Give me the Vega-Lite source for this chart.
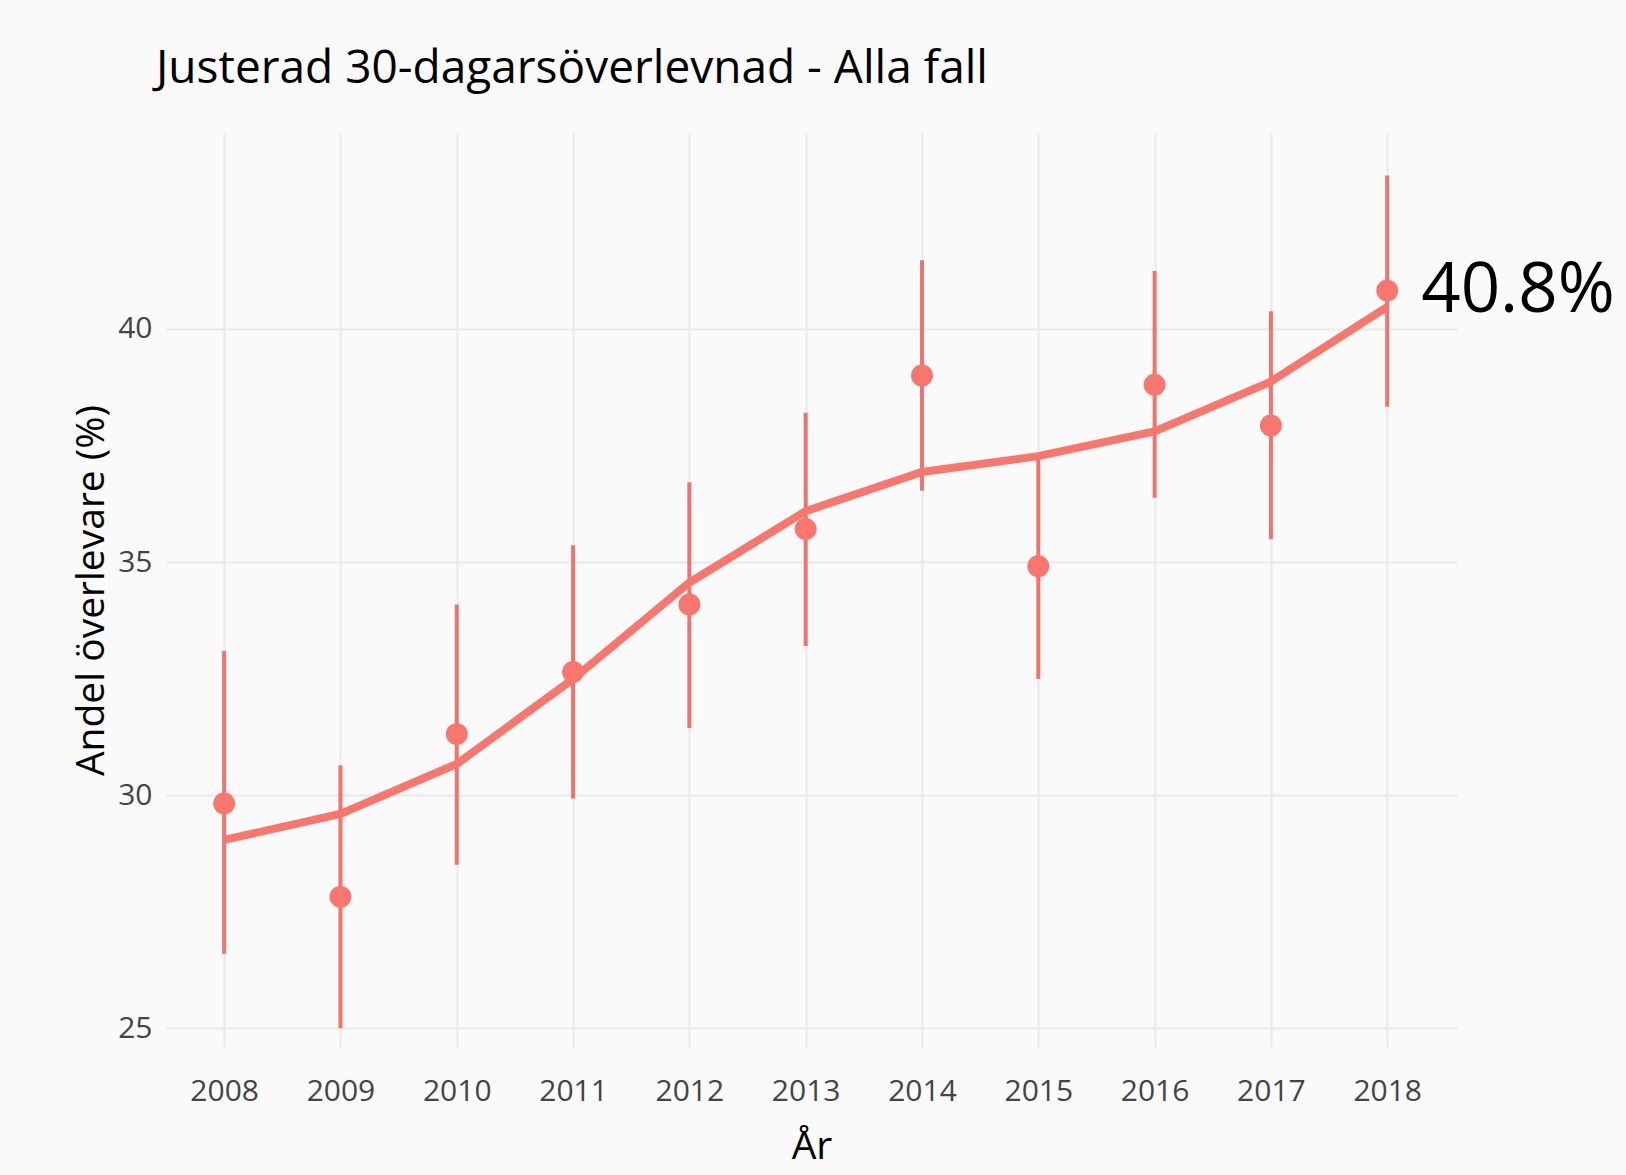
{
  "$schema": "https://vega.github.io/schema/vega-lite/v6.json",
  "width": 1291,
  "height": 914,
  "autosize": {"type": "none"},
  "padding": {"left": 166, "top": 133, "right": 169, "bottom": 128},
  "background": "#fafafa",
  "title": {
    "text": "Justerad 30-dagarsöverlevnad - Alla fall",
    "anchor": "start",
    "frame": "group",
    "dx": -10,
    "offset": 40,
    "font": "Open Sans",
    "fontSize": 46,
    "fontWeight": "normal",
    "color": "#000000"
  },
  "data": {
    "values": [
      {"year": 2008, "est": 29.82, "lo": 26.6, "hi": 33.09, "fit": 29.04, "label": ""},
      {"year": 2009, "est": 27.82, "lo": 25.0, "hi": 30.64, "fit": 29.6, "label": ""},
      {"year": 2010, "est": 31.31, "lo": 28.51, "hi": 34.09, "fit": 30.67, "label": ""},
      {"year": 2011, "est": 32.64, "lo": 29.93, "hi": 35.36, "fit": 32.49, "label": ""},
      {"year": 2012, "est": 34.09, "lo": 31.44, "hi": 36.71, "fit": 34.56, "label": ""},
      {"year": 2013, "est": 35.71, "lo": 33.2, "hi": 38.2, "fit": 36.09, "label": ""},
      {"year": 2014, "est": 39.0, "lo": 36.53, "hi": 41.47, "fit": 36.93, "label": ""},
      {"year": 2015, "est": 34.91, "lo": 32.49, "hi": 37.27, "fit": 37.27, "label": ""},
      {"year": 2016, "est": 38.8, "lo": 36.38, "hi": 41.24, "fit": 37.8, "label": ""},
      {"year": 2017, "est": 37.93, "lo": 35.49, "hi": 40.38, "fit": 38.87, "label": ""},
      {"year": 2018, "est": 40.82, "lo": 38.33, "hi": 43.29, "fit": 40.47, "label": "40.8%"}
    ]
  },
  "config": {
    "view": {"stroke": null},
    "axis": {
      "grid": true,
      "gridColor": "#e9e9e9",
      "gridWidth": 2,
      "domain": false,
      "ticks": false,
      "labelFont": "Open Sans",
      "labelFontSize": 30,
      "labelColor": "#444444",
      "titleFont": "Open Sans",
      "titleFontSize": 39,
      "titleFontWeight": "normal",
      "titleColor": "#000000"
    },
    "axisX": {"labelPadding": 29, "titlePadding": 21},
    "axisY": {"labelPadding": 14, "titlePadding": 6}
  },
  "layer": [
    {
      "mark": {"type": "rule", "color": "#ee7470", "strokeWidth": 4},
      "encoding": {
        "x": {"field": "year", "type": "quantitative", "scale": {"domain": [2007.5, 2018.6], "nice": false, "zero": false}, "axis": {"values": [2008, 2009, 2010, 2011, 2012, 2013, 2014, 2015, 2016, 2017, 2018], "format": "d"}, "title": "År"},
        "y": {"field": "lo", "type": "quantitative", "scale": {"domain": [24.6, 44.2], "nice": false, "zero": false}, "axis": {"values": [25, 30, 35, 40]}, "title": "Andel överlevare (%)"},
        "y2": {"field": "hi"}
      }
    },
    {
      "mark": {"type": "line", "color": "#f8766d", "strokeWidth": 8},
      "encoding": {
        "x": {"field": "year", "type": "quantitative", "title": "År"},
        "y": {"field": "fit", "type": "quantitative", "title": "Andel överlevare (%)"}
      }
    },
    {
      "mark": {"type": "point", "filled": true, "color": "#f8766d", "opacity": 1, "size": 480},
      "encoding": {
        "x": {"field": "year", "type": "quantitative", "title": "År"},
        "y": {"field": "est", "type": "quantitative", "title": "Andel överlevare (%)"}
      }
    },
    {
      "transform": [{"filter": "datum.label != ''"}],
      "mark": {"type": "text", "align": "left", "baseline": "middle", "dx": 34, "font": "Open Sans", "fontSize": 69, "color": "#000000"},
      "encoding": {
        "x": {"field": "year", "type": "quantitative", "title": "År"},
        "y": {"field": "est", "type": "quantitative", "title": "Andel överlevare (%)"},
        "text": {"field": "label"}
      }
    }
  ]
}
